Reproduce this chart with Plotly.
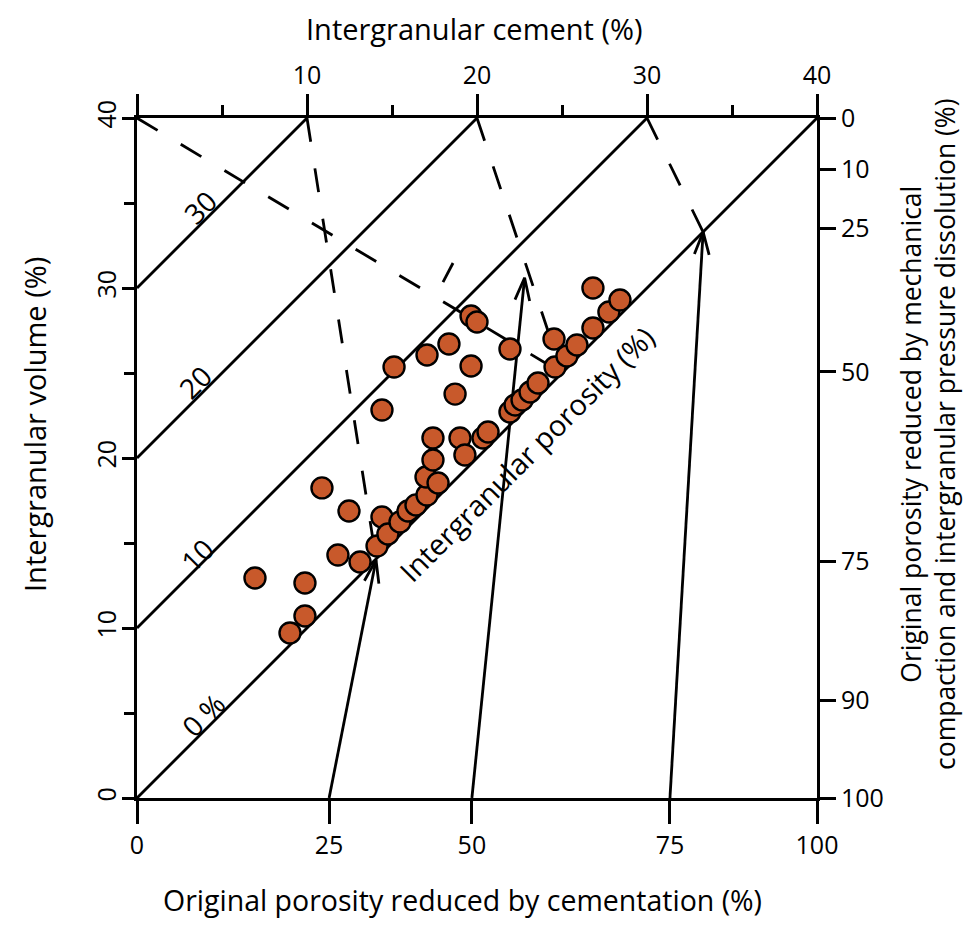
import math
import plotly.graph_objects as go

# ---------------- data ----------------
# sample points: intergranular cement (%) vs intergranular volume (%)
cement = [6.94, 9.88, 9.88, 9.0, 10.88, 12.47, 11.82, 13.12, 14.12, 14.41, 14.76, 15.47,
          15.94, 16.41, 17.06, 17.0, 17.71, 17.41, 17.41, 19.0, 19.29, 20.35, 20.65, 14.41,
          15.12, 17.06, 18.35, 19.65, 18.71, 19.65, 20.0, 21.94, 21.94, 22.24, 22.65, 23.12,
          23.59, 24.59, 25.29, 25.88, 26.82, 24.53, 26.82, 27.76, 28.41]
igv = [12.94, 12.65, 10.71, 9.71, 18.24, 16.88, 14.29, 13.88, 14.82, 16.53, 15.53, 16.24,
       16.88, 17.24, 17.82, 18.88, 18.53, 19.88, 21.18, 21.18, 20.18, 21.18, 21.53, 22.82,
       25.35, 26.06, 26.71, 25.41, 23.76, 28.35, 28.0, 26.41, 22.71, 23.12, 23.41, 23.88,
       24.41, 25.35, 26.0, 26.65, 27.65, 27.0, 30.0, 28.59, 29.29]

# intergranular porosity isolines (%)
porosity_levels = [0, 10, 20, 30]
porosity_labels = ["0 %", "10", "20", "30"]

# top axis: intergranular cement ticks
cement_ticks = [0, 10, 20, 30, 40]
cement_ticktext = ["", "10", "20", "30", "40"]
cement_minor = [5, 15, 25, 35]

# left axis: intergranular volume ticks
igv_ticks = [0, 10, 20, 30, 40]
igv_minor = [5, 15, 25, 35]

# bottom axis: original porosity reduced by cementation (positions in cement units)
cementation_pos = [0, 11.3, 19.7, 31.35, 40]
cementation_text = ["0", "25", "50", "75", "100"]

# right axis: original porosity reduced by compaction (positions in IGV units)
compaction_pos = [40, 37.0, 33.5, 25.06, 13.94, 5.76, 0]
compaction_text = ["0", "10", "25", "50", "75", "90", "100"]

# dashed construction lines (start, end) in (cement, IGV)
dashed_starts = [(0, 40), (10, 40), (20, 40), (30, 40)]
dashed_ends = [(25, 25), (14.06, 14.06), (25, 25), (33.3, 33.3)]
extra_dash = [(18.0, 30.35), (18.59, 31.47)]

# arrows from the bottom axis (start) to the tip
arrow_starts = [(11.3, 0), (19.7, 0), (31.35, 0)]
arrow_tips = [(14.06, 14.0), (22.8, 30.6), (33.3, 33.3)]

FONT = "Open Sans"
BLACK = "black"
LW = 2.8

fig = go.Figure()

# porosity isolines
for p in porosity_levels:
    fig.add_trace(go.Scatter(x=[0, 40 - p], y=[p, 40], mode="lines",
                             line=dict(color=BLACK, width=LW), hoverinfo="skip"))

# dashed lines
for (x0, y0), (x1, y1) in zip(dashed_starts, dashed_ends):
    fig.add_trace(go.Scatter(x=[x0, x1], y=[y0, y1], mode="lines",
                             line=dict(color=BLACK, width=LW, dash="24px,27px"),
                             hoverinfo="skip"))
fig.add_trace(go.Scatter(x=[p[0] for p in extra_dash], y=[p[1] for p in extra_dash],
                         mode="lines", line=dict(color=BLACK, width=LW), hoverinfo="skip"))


def vhead(start, tip, length=1.4, half=18):
    dx, dy = start[0] - tip[0], start[1] - tip[1]
    n = math.hypot(dx, dy)
    ux, uy = dx / n, dy / n
    pts = []
    for s in (1, -1):
        a = math.radians(s * half)
        rx = ux * math.cos(a) - uy * math.sin(a)
        ry = ux * math.sin(a) + uy * math.cos(a)
        pts.append((tip[0] + length * rx, tip[1] + length * ry))
    return [pts[0][0], tip[0], pts[1][0]], [pts[0][1], tip[1], pts[1][1]]


for st, tp in zip(arrow_starts, arrow_tips):
    fig.add_trace(go.Scatter(x=[st[0], tp[0]], y=[st[1], tp[1]], mode="lines",
                             line=dict(color=BLACK, width=LW), hoverinfo="skip"))
    hx, hy = vhead(st, tp)
    fig.add_trace(go.Scatter(x=hx, y=hy, mode="lines",
                             line=dict(color=BLACK, width=LW), hoverinfo="skip"))

# sample points
fig.add_trace(go.Scatter(x=cement, y=igv, mode="markers",
                         marker=dict(size=21, color="#c8592b",
                                     line=dict(color=BLACK, width=2.4)),
                         hoverinfo="skip"))

# invisible trace to activate secondary axes
fig.add_trace(go.Scatter(x=[0], y=[0], xaxis="x2", yaxis="y2", mode="markers",
                         marker=dict(opacity=0), hoverinfo="skip"))

tickfont = dict(family=FONT, size=25, color=BLACK)
common = dict(range=[0, 40], showgrid=False, zeroline=False, showline=True,
              linecolor=BLACK, linewidth=LW, ticks="outside", tickcolor=BLACK,
              tickwidth=LW, tickfont=tickfont, fixedrange=True)

# page has an 8px body margin, so the figure is shifted/shrunk to keep the
# plotting square at 137..817 x 118..798 in the window
fig.update_layout(
    width=956, height=913,
    margin=dict(l=129, r=147, t=110, b=123),
    plot_bgcolor="white", paper_bgcolor="white", showlegend=False,
    xaxis=dict(common, tickvals=cementation_pos, ticktext=cementation_text, ticklen=23),
    xaxis2=dict(common, overlaying="x", side="top", anchor="y",
                tickvals=cement_ticks, ticktext=cement_ticktext, ticklen=21,
                minor=dict(tickvals=cement_minor, ticklen=10, ticks="outside",
                           tickwidth=LW, tickcolor=BLACK)),
    yaxis=dict(common, tickvals=igv_ticks, tickangle=-90, ticklen=12,
               ticklabelstandoff=-4,
               minor=dict(tickvals=igv_minor, ticklen=10, ticks="outside",
                          tickwidth=LW, tickcolor=BLACK)),
    yaxis2=dict(common, overlaying="y", side="right", anchor="x",
                tickvals=compaction_pos, ticktext=compaction_text, ticklen=16),
)


def px(xp, yp):
    return (xp - 137) / 680, (798 - yp) / 680


annots = []
# porosity line labels
label_pos = [(3.88, 4.88), (3.53, 14.29), (3.41, 24.47), (3.71, 34.76)]
for txt, (lx, ly) in zip(porosity_labels, label_pos):
    annots.append(dict(x=lx, y=ly, xref="x", yref="y", text=txt, showarrow=False,
                       textangle=-45, xanchor="center", yanchor="middle",
                       font=dict(family=FONT, size=28, color=BLACK)))
annots.append(dict(x=22.94, y=20.24, xref="x", yref="y", text="Intergranular porosity (%)",
                   showarrow=False, textangle=-45, xanchor="center", yanchor="middle",
                   font=dict(family=FONT, size=29, color=BLACK)))

titlefont = dict(family=FONT, size=29, color=BLACK)


def title(xp, yp, text, angle=0, font=titlefont):
    ax_, ay_ = px(xp, yp)
    annots.append(dict(x=ax_, y=ay_, xref="paper", yref="paper", text=text,
                       showarrow=False, textangle=angle, xanchor="center",
                       yanchor="middle", font=font))


title(474, 28, "Intergranular cement (%)")
title(462, 900, "Original porosity reduced by cementation (%)",
      font=dict(family=FONT, size=28.5, color=BLACK))
title(35, 425, "Intergranular volume (%)", -90)
title(928, 434, "Original porosity reduced by mechanical<br>"
                "compaction and intergranular pressure dissolution (%)", -90,
      dict(family=FONT, size=26.5, color=BLACK))
fig.update_layout(annotations=annots)

fig.write_html("out.html")
